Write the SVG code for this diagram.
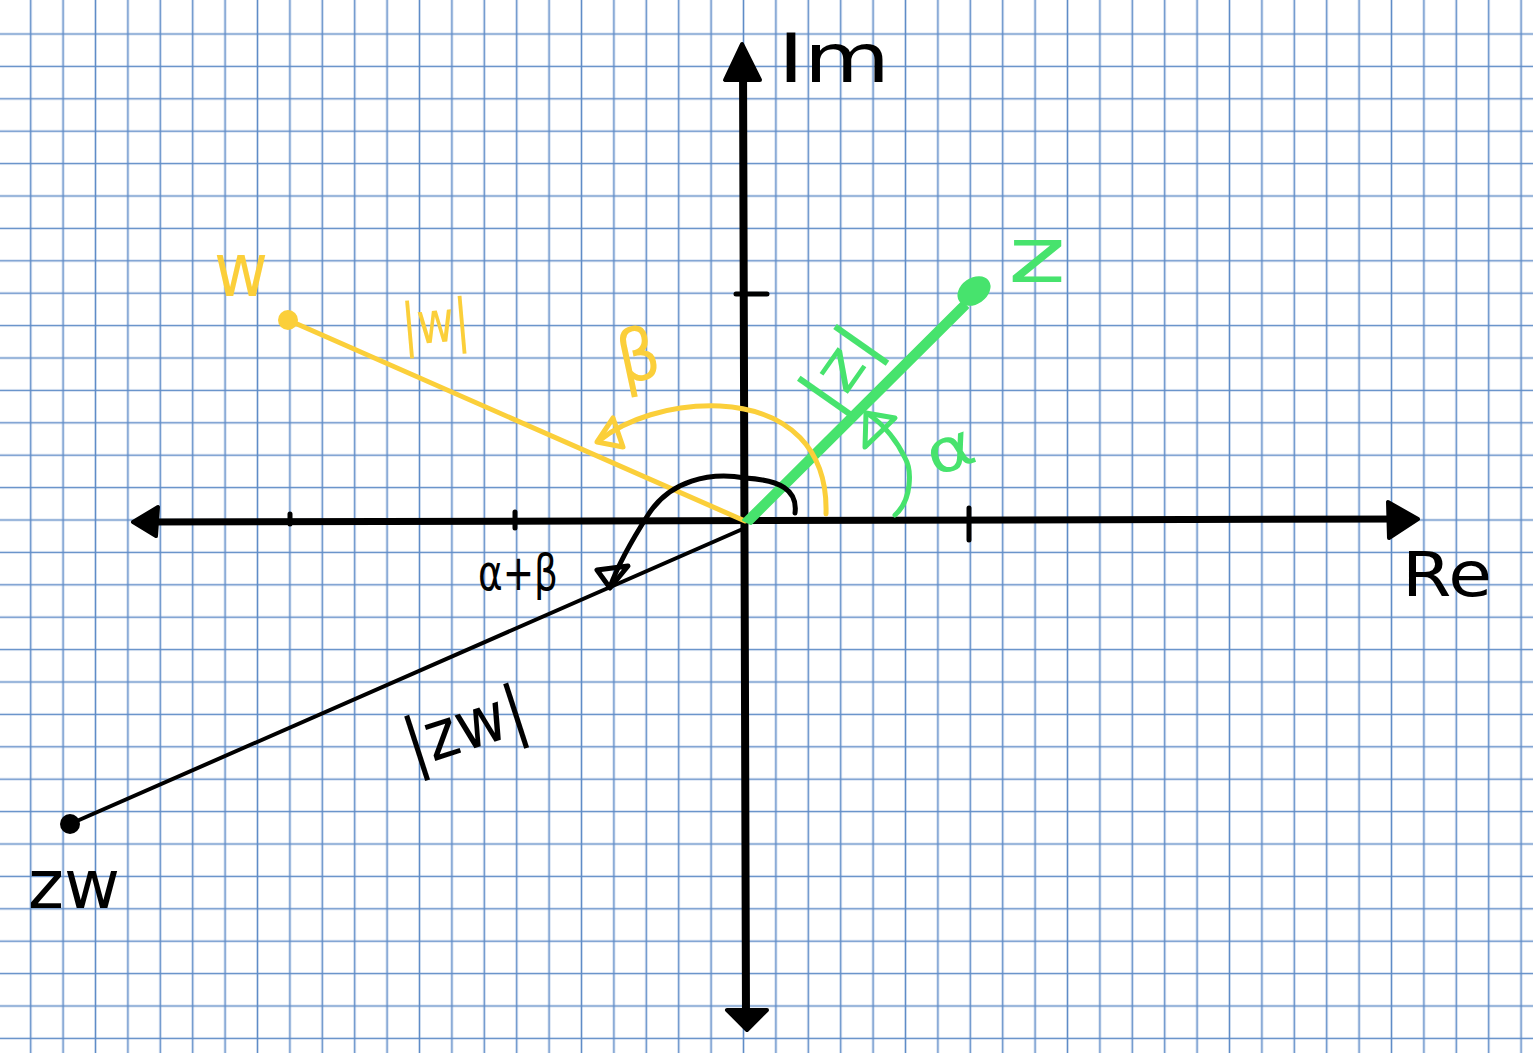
<svg xmlns="http://www.w3.org/2000/svg" width="1533" height="1053" viewBox="0 0 1533 1053">
<style>
.ax{fill:none;stroke:#000;stroke-linecap:round;stroke-linejoin:round}
.hand{font-family:"DejaVu Sans","Liberation Sans",sans-serif}
.y{fill:#fbcf3a}.g{fill:#47e36d}.k{fill:#000}
</style>
<defs>
<pattern id="gv" patternUnits="userSpaceOnUse" x="14.5" y="0" width="32.4" height="32.4">
<path d="M16.2 0V32.4" stroke="#5f8cc7" stroke-width="1.6" fill="none"/>
</pattern>
<pattern id="gh" patternUnits="userSpaceOnUse" x="0" y="17.8" width="32.4" height="32.4">
<path d="M0 16.2H32.4" stroke="#5f8cc7" stroke-width="1.6" fill="none"/>
</pattern>
</defs>
<rect width="1533" height="1053" fill="#fff"/>
<rect x="0" y="0" width="1533" height="1053" fill="url(#gv)"/>
<rect x="0" y="20" width="1533" height="1033" fill="url(#gh)"/>

<g id="axes">
<path class="ax" stroke-width="7" d="M142 522 L1410 519"/>
<path class="ax" stroke-width="8" d="M743 60 L746 1018"/>
<path d="M133 522 L158 507 L156 536 Z" fill="#000" stroke="#000" stroke-width="4" stroke-linejoin="round"/>
<path d="M1418 519 L1388 502 L1389 538 Z" fill="#000" stroke="#000" stroke-width="4" stroke-linejoin="round"/>
<path d="M742 44 L725 80 L760 80 Z" fill="#000" stroke="#000" stroke-width="4" stroke-linejoin="round"/>
<path d="M747 1030 L727 1010 L767 1010 Z" fill="#000" stroke="#000" stroke-width="4" stroke-linejoin="round"/>
<path class="ax" stroke-width="5" d="M290 514V524M515 512V528M969 508V540M736 294H767"/>
</g>

<g id="connectors">
<g id="zw-line">
<path class="ax" stroke-width="4" d="M745 528 L70 824"/>
<circle cx="70" cy="824" r="10" fill="#000"/>
</g>
<g id="w-line">
<path fill="none" stroke="#fbcf3a" stroke-width="5" stroke-linecap="round" d="M745 521 L288 320"/>
<circle cx="288" cy="320" r="10" fill="#fbcf3a"/>
</g>
<g id="z-line">
<path fill="#47e36d" stroke="#47e36d" stroke-width="2" stroke-linejoin="round" d="M743 520 L747 516 L962 302 L968 308 L751 524 Z"/>
<ellipse cx="974" cy="291" rx="18" ry="13" transform="rotate(-35 974 291)" fill="#47e36d"/>
</g>
<g id="beta-arc">
<path fill="none" stroke="#fbcf3a" stroke-width="5" stroke-linecap="round" d="M826 514 C828 450 790 410 720 406 C670 404 625 420 600 440"/>
<path fill="none" stroke="#fbcf3a" stroke-width="5" stroke-linejoin="round" stroke-linecap="round" d="M597 442 L613 418 L623 447 Z"/>
</g>
<g id="alphabeta-arc">
<path fill="none" stroke="#000" stroke-width="5" stroke-linecap="round" d="M795 513 C798 490 780 480 745 478 C710 472 670 480 648 515 C632 540 618 565 610 587"/>
<path fill="none" stroke="#000" stroke-width="5" stroke-linejoin="round" stroke-linecap="round" d="M610 588 L597 570 L628 566 Z"/>
</g>
<g id="alpha-arc">
<path fill="none" stroke="#47e36d" stroke-width="5" stroke-linecap="round" d="M895 515 C912 500 912 470 905 458 C898 443 885 425 868 414"/>
<path fill="none" stroke="#47e36d" stroke-width="5" stroke-linejoin="round" stroke-linecap="round" d="M866 413 L865 447 L895 418 Z"/>
</g>
</g>

<g id="labels">
<text class="hand k" x="778" y="82" font-size="68" textLength="112" lengthAdjust="spacingAndGlyphs">Im</text>
<text class="hand k" x="1402" y="596" font-size="62" textLength="90" lengthAdjust="spacingAndGlyphs">Re</text>
<text class="hand g" x="1008" y="282" font-size="76" textLength="58" lengthAdjust="spacingAndGlyphs">z</text>
<text class="hand y" x="214" y="296" font-size="74" textLength="54" lengthAdjust="spacingAndGlyphs">w</text>
<text class="hand y" x="402" y="343" font-size="58" textLength="68" lengthAdjust="spacingAndGlyphs" transform="rotate(-5 430 330)">|w|</text>
<text class="hand y" x="616" y="380" font-size="72" textLength="42" lengthAdjust="spacingAndGlyphs" transform="rotate(-12 640 350)">β</text>
<text class="hand g" x="795" y="394" font-size="64" textLength="88" lengthAdjust="spacingAndGlyphs" transform="rotate(-55 835 370)">|z|</text>
<text class="hand g" x="926" y="470" font-size="60" textLength="48" lengthAdjust="spacingAndGlyphs" transform="rotate(-20 950 450)">α</text>
<text class="hand k" x="478" y="590" font-size="50" textLength="80" lengthAdjust="spacingAndGlyphs">α+β</text>
<text class="hand k" x="402" y="750" font-size="68" textLength="125" lengthAdjust="spacingAndGlyphs" transform="rotate(-18 465 725)">|zw|</text>
<text class="hand k" x="28" y="908" font-size="68" textLength="92" lengthAdjust="spacingAndGlyphs">zw</text>
</g>
</svg>
